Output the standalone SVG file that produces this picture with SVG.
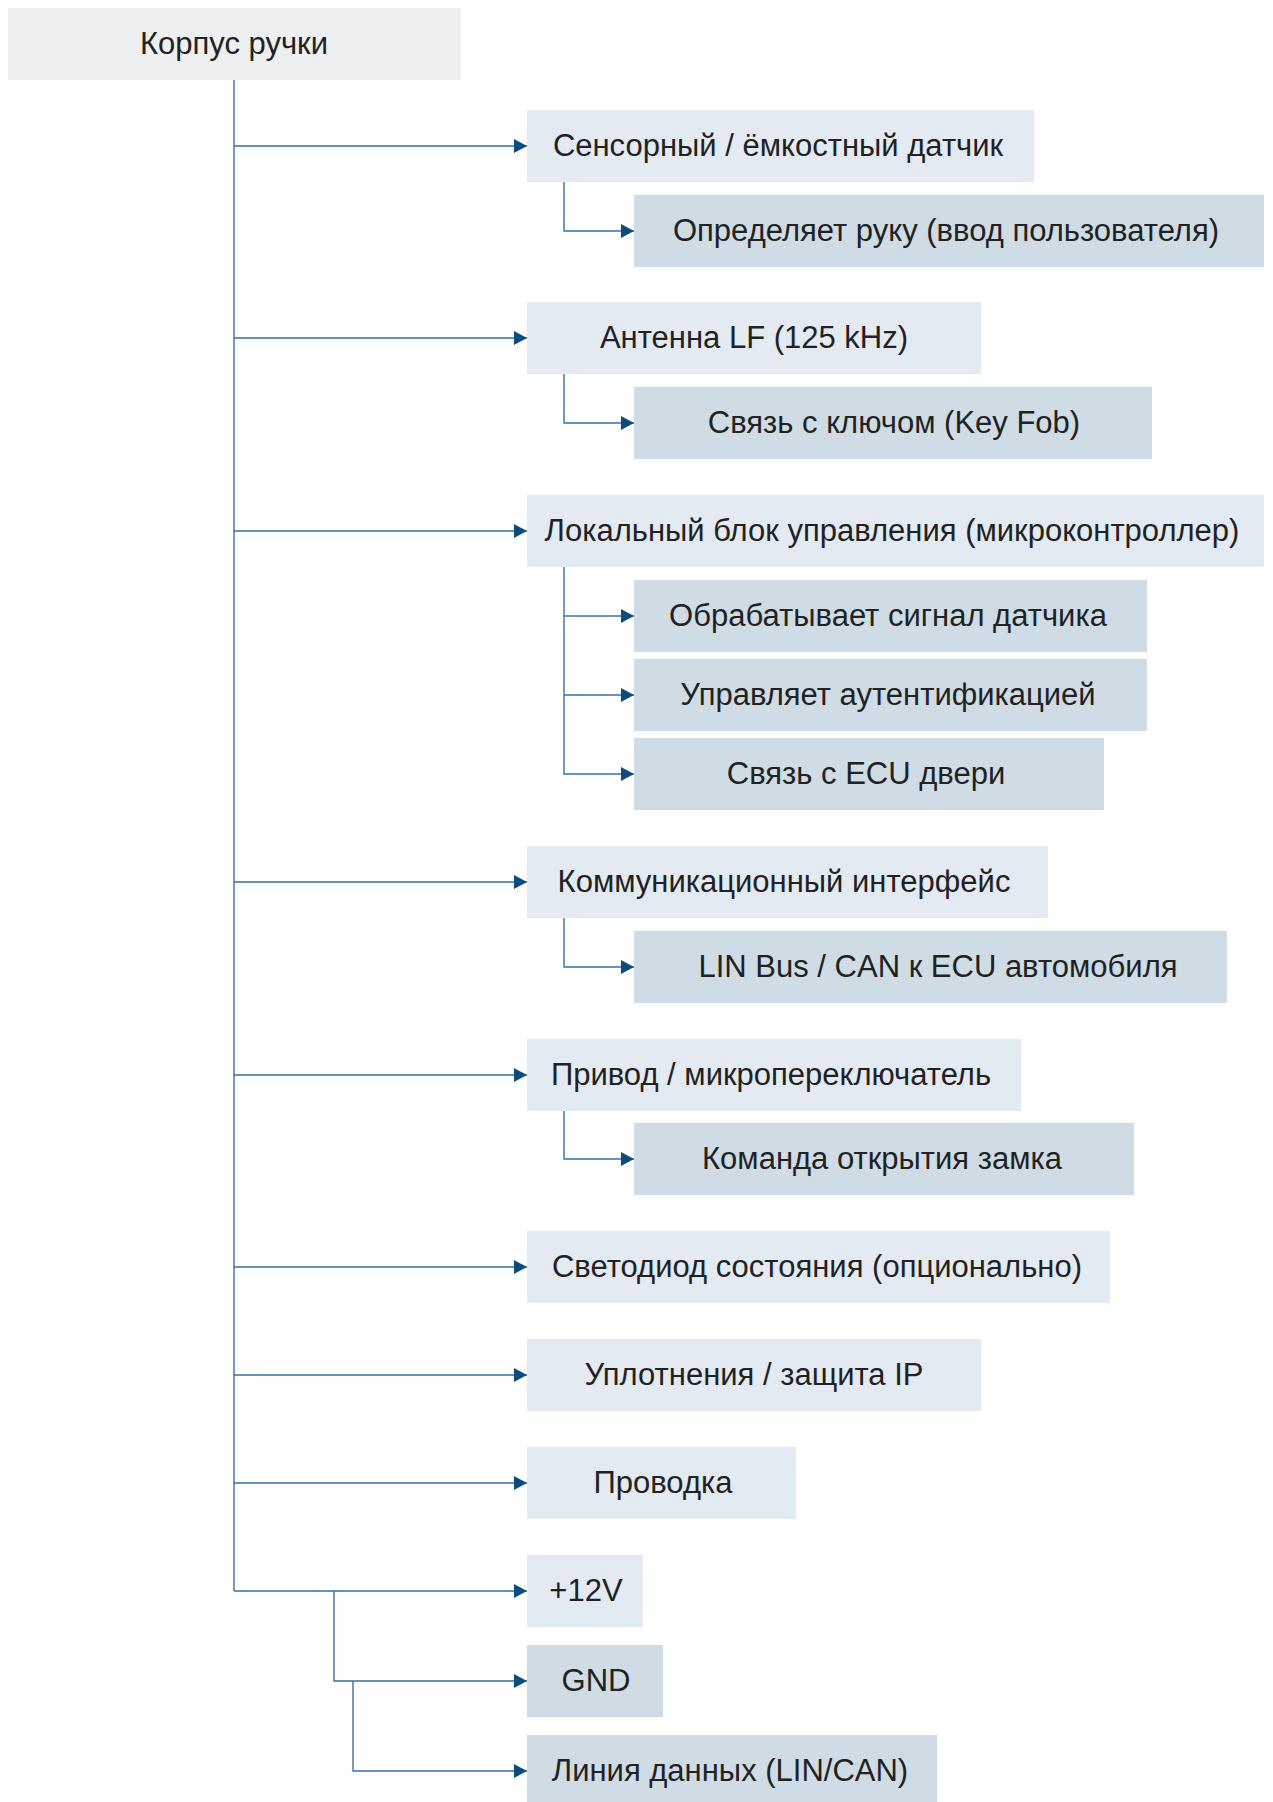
<svg xmlns="http://www.w3.org/2000/svg" width="1273" height="1802" viewBox="0 0 1273 1802">
<style>
.t{font-family:"Liberation Sans",Arial,sans-serif;font-size:31px;fill:#222;text-anchor:middle;dominant-baseline:central}
.root{fill:#EEEFF1}
.l1{fill:#E3EAF1}
.l2{fill:#CFDCE5}
.c{fill:none;stroke:#3A719E;stroke-width:1.4}
</style>
<defs>
<marker id="ah" viewBox="0 0 13 14" refX="13" refY="7" markerWidth="13" markerHeight="14" markerUnits="userSpaceOnUse" orient="auto"><path d="M0,0 L13,7 L0,14 Z" fill="#0D4C7D"/></marker>
</defs>
<g id="connectors">
<path class="c" d="M234,80 V1591"/>
<path class="c" d="M234,146 H527" marker-end="url(#ah)"/>
<path class="c" d="M234,338 H527" marker-end="url(#ah)"/>
<path class="c" d="M234,531 H527" marker-end="url(#ah)"/>
<path class="c" d="M234,882 H527" marker-end="url(#ah)"/>
<path class="c" d="M234,1075 H527" marker-end="url(#ah)"/>
<path class="c" d="M234,1267 H527" marker-end="url(#ah)"/>
<path class="c" d="M234,1375 H527" marker-end="url(#ah)"/>
<path class="c" d="M234,1483 H527" marker-end="url(#ah)"/>
<path class="c" d="M234,1591 H527" marker-end="url(#ah)"/>
<path class="c" d="M334,1591 V1681 H527" marker-end="url(#ah)"/>
<path class="c" d="M353,1681 V1771 H527" marker-end="url(#ah)"/>
<path class="c" d="M564,182 V231 H634" marker-end="url(#ah)"/>
<path class="c" d="M564,374 V423 H634" marker-end="url(#ah)"/>
<path class="c" d="M564,567 V774 H634" marker-end="url(#ah)"/>
<path class="c" d="M564,616 H634" marker-end="url(#ah)"/>
<path class="c" d="M564,695 H634" marker-end="url(#ah)"/>
<path class="c" d="M564,918 V967 H634" marker-end="url(#ah)"/>
<path class="c" d="M564,1111 V1159 H634" marker-end="url(#ah)"/>
</g>
<g id="n-root"><rect class="root" x="8" y="8" width="453" height="72"/><text class="t" x="234" y="43">Корпус ручки</text></g>
<g id="n-sensor"><rect class="l1" x="527" y="110" width="507" height="72"/><text class="t" x="778" y="145">Сенсорный / ёмкостный датчик</text></g>
<g id="n-hand"><rect class="l2" x="634" y="195" width="630" height="72"/><text class="t" x="946" y="230">Определяет руку (ввод пользователя)</text></g>
<g id="n-antenna"><rect class="l1" x="527" y="302" width="454" height="72"/><text class="t" x="754" y="337">Антенна LF (125 kHz)</text></g>
<g id="n-keyfob"><rect class="l2" x="634" y="387" width="518" height="72"/><text class="t" x="894" y="422">Связь с ключом (Key Fob)</text></g>
<g id="n-mcu"><rect class="l1" x="527" y="495" width="737" height="72"/><text class="t" x="892" y="530">Локальный блок управления (микроконтроллер)</text></g>
<g id="n-proc"><rect class="l2" x="634" y="580" width="513" height="72"/><text class="t" x="888" y="615">Обрабатывает сигнал датчика</text></g>
<g id="n-auth"><rect class="l2" x="634" y="659" width="513" height="72"/><text class="t" x="888" y="694">Управляет аутентификацией</text></g>
<g id="n-ecu"><rect class="l2" x="634" y="738" width="470" height="72"/><text class="t" x="866" y="773">Связь с ECU двери</text></g>
<g id="n-comm"><rect class="l1" x="527" y="846" width="521" height="72"/><text class="t" x="784" y="881">Коммуникационный интерфейс</text></g>
<g id="n-lin"><rect class="l2" x="634" y="931" width="593" height="72"/><text class="t" x="938" y="966">LIN Bus / CAN к ECU автомобиля</text></g>
<g id="n-act"><rect class="l1" x="527" y="1039" width="494" height="72"/><text class="t" x="771" y="1074">Привод / микропереключатель</text></g>
<g id="n-unlock"><rect class="l2" x="634" y="1123" width="500" height="72"/><text class="t" x="882" y="1158">Команда открытия замка</text></g>
<g id="n-led"><rect class="l1" x="527" y="1231" width="583" height="72"/><text class="t" x="817" y="1266">Светодиод состояния (опционально)</text></g>
<g id="n-seal"><rect class="l1" x="527" y="1339" width="454" height="72"/><text class="t" x="754" y="1374">Уплотнения / защита IP</text></g>
<g id="n-wiring"><rect class="l1" x="527" y="1447" width="269" height="72"/><text class="t" x="663" y="1482">Проводка</text></g>
<g id="n-12v"><rect class="l1" x="527" y="1555" width="116" height="72"/><text class="t" x="586" y="1590">+12V</text></g>
<g id="n-gnd"><rect class="l2" x="527" y="1645" width="136" height="72"/><text class="t" x="596" y="1680">GND</text></g>
<g id="n-data"><rect class="l2" x="527" y="1735" width="410" height="72"/><text class="t" x="730" y="1770">Линия данных (LIN/CAN)</text></g>
</svg>
